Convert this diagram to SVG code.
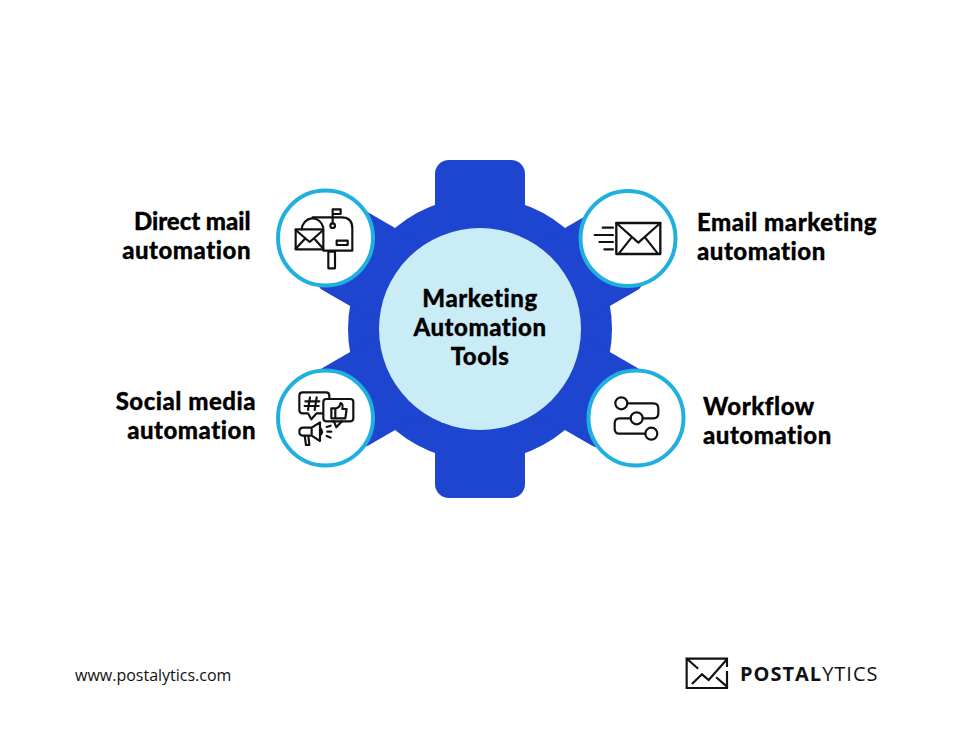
<svg xmlns="http://www.w3.org/2000/svg" width="960" height="750" viewBox="0 0 960 750">
<style>
.t{font-family:"Lato","Liberation Sans",sans-serif;font-weight:900;font-size:24px;letter-spacing:.5px;fill:#000;stroke:#000;stroke-width:.3px}
.c{fill:#fff;stroke:#1fb0e0;stroke-width:4}
.i{fill:none;stroke:#111;stroke-width:6.500;stroke-linecap:round;stroke-linejoin:round}
.tooth{fill:#1e45cf}
</style>
<rect width="960" height="750" fill="#fff"/>
<g id="gear">
<circle class="tooth" cx="480" cy="329" r="132"/>
<rect class="tooth" x="435" y="160" width="90" height="338" rx="14"/>
<rect class="tooth" x="435" y="160" width="90" height="338" rx="14" transform="rotate(60 480 329)"/>
<rect class="tooth" x="435" y="160" width="90" height="338" rx="14" transform="rotate(-60 480 329)"/>
</g>
<g id="center">
<circle cx="480" cy="329" r="101" fill="#caecf7"/>
<text class="t" x="480" y="307" text-anchor="middle">Marketing</text>
<text class="t" x="480" y="336" text-anchor="middle">Automation</text>
<text class="t" x="480" y="365" text-anchor="middle">Tools</text>
</g>
<g id="direct-mail">
<circle class="c" cx="325.500" cy="238" r="47.500"/>
<g class="i" transform="translate(270 180) scale(.3333)">
<rect x="77" y="148" width="83" height="60"/>
<path d="M77 150L119 186L160 150M77 206L105 176M160 206L133 176"/>
<path d="M95 148A33 36 0 0 1 160 143"/>
<path d="M128 112H215Q247 112 247 145V212H160M128 112"/>
<path d="M188 130V88H212V102H188"/>
<circle cx="188" cy="137" r="7"/>
<rect x="200" y="182" width="33" height="13"/>
<rect x="175" y="215" width="20" height="50"/>
</g>
<text class="t" x="134" y="230" textLength="117">Direct mail</text>
<text class="t" x="251" y="259" text-anchor="end">automation</text>
</g>
<g id="email">
<circle class="c" cx="628" cy="238.500" r="47.500"/>
<g class="i" transform="translate(575 180) scale(.3333)">
<rect x="124" y="129" width="132" height="93" stroke-linecap="butt" stroke-width="7"/>
<path d="M124 129L190 188L256 129M132 220L170 172M248 220L210 172"/>
<path d="M83 143H114M59 165H114M73 186H114M88 208H114"/>
</g>
<text class="t" x="697" y="231">Email marketing</text>
<text class="t" x="697" y="260">automation</text>
</g>
<g id="social">
<circle class="c" cx="325.500" cy="418" r="47.500"/>
<g class="i" transform="translate(270 365) scale(.3333)">
<path d="M158 145H140L124 163L114 145H98Q88 145 88 135V92Q88 82 98 82H168Q178 82 178 92V102"/>
<path d="M120 97L114 135M140 97L134 135M106 109H148M104 123H146"/>
<rect x="160" y="102" width="90" height="67" rx="9"/>
<path d="M188 169H192L199 187L216 169"/>
<path d="M184 130H196V160H184ZM196 132L208 125L212 114Q220 116 217 132H230L226 160H196"/>
<path d="M125 188L150 172V228L125 212H100Q88 212 88 200Q88 188 100 188ZM125 188V212M150 188Q162 200 150 212M104 212L108 240H118L115 212"/>
<path d="M170 186L182 182M172 200H184M170 213L182 218"/>
</g>
<text class="t" x="256" y="410" text-anchor="end">Social media</text>
<text class="t" x="256" y="439" text-anchor="end">automation</text>
</g>
<g id="workflow">
<circle class="c" cx="636" cy="418" r="47.500"/>
<g class="i" transform="translate(580 365) scale(.3333)">
<circle cx="124" cy="115" r="18"/>
<circle cx="170" cy="160" r="18"/>
<circle cx="214" cy="206" r="18"/>
<path d="M142 115H220Q235 115 235 130V145Q235 160 220 160H188M152 160H119Q104 160 104 175V191Q104 206 119 206H196"/>
</g>
<text class="t" x="703" y="415">Workflow</text>
<text class="t" x="703" y="444">automation</text>
</g>
<g id="footer">
<text x="75" y="681" font-family="Open Sans" font-size="16" fill="#111">www.postalytics.com</text>
<g class="i" transform="translate(682 652) scale(.3333)">
<path d="M110 20H14V108H135V60M14 20L46 48M135 104L105 78M32 94L60 67L80 84L133 24M113 20H135V42" stroke-linecap="square" stroke-linejoin="miter"/>
</g>
<text x="740" y="681" font-family="Open Sans" font-size="20" letter-spacing="1" fill="#111"><tspan font-weight="700">POSTAL</tspan>YTICS</text>
</g>
</svg>
